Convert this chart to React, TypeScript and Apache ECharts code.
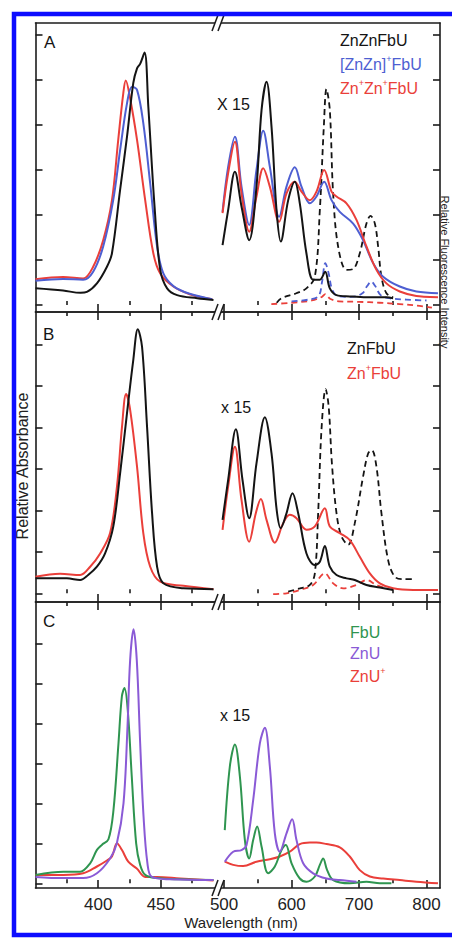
import React, { useEffect, useRef } from 'react';
import * as echarts from 'echarts';

const FONT = '"Liberation Sans", Arial, Helvetica, sans-serif';
const AXIS = '#1c1c1c';
const BLACK = '#141414';
const BLUE = '#4e5fd2';
const RED = '#ea3f3a';
const GREEN = '#2f9550';
const PURPLE = '#8a5ad6';

// tick values
const LEFT_MAJOR = [400, 450];
const LEFT_MINOR = [375, 425, 475];
const RIGHT_MAJOR = [500, 600, 700, 800];
const RIGHT_MINOR = [550, 650, 750];
const Y_TICKS = [0, 1, 2, 3, 4, 5, 6];

// ---------- Panel A (wavelength nm, relative value) ----------
const A_ZnZnFbU_soret = [[350, 0.37], [372, 0.32], [386, 0.27], [391, 0.29], [399, 0.48], [407, 0.85], [411, 1.15], [417.5, 2.56], [423, 3.74], [428, 4.93], [431, 5.26], [433.5, 5.36], [437, 5.61], [440, 4.41], [445, 2.18], [449.5, 0.78], [455, 0.37], [463, 0.22], [479, 0.15], [492, 0.11]];
const A_ZnZnPFbU_soret = [[350, 0.54], [372, 0.58], [388, 0.56], [396, 0.74], [404, 1.3], [412, 2.33], [417.5, 3.44], [423, 4.48], [427, 4.85], [431, 4.78], [436, 4.04], [441.5, 2.7], [447, 1.3], [452, 0.7], [460, 0.42], [473, 0.25], [491, 0.13]];
const A_ZnPZnPFbU_soret = [[350, 0.57], [372, 0.62], [388, 0.59], [396, 0.85], [404, 1.44], [411, 2.33], [416, 3.67], [420, 4.7], [422, 4.99], [425.5, 4.59], [431, 3.67], [437.5, 2.33], [444, 1.15], [449.5, 0.7], [460, 0.41], [473, 0.24], [491, 0.13]];

const A_ZnZnFbU_Q = [[497.7, 1.33], [506, 2.11], [516, 2.96], [525.8, 2.19], [537.2, 1.44], [548, 2.63], [555.5, 4.33], [562.9, 4.96], [570.3, 3.96], [577.7, 2.11], [584, 1.41], [595, 2.33], [604.8, 2.74], [612.2, 2.26], [622, 1.15], [632, 0.56], [641.9, 0.56], [649.8, 0.74], [656.7, 0.37], [666.6, 0.22], [686.3, 0.19], [711, 0.17], [740.6, 0.17], [750.5, 0.15]];
const A_ZnZnPFbU_Q = [[497.7, 2.07], [506, 3.07], [516, 3.74], [525.8, 2.63], [537.2, 1.78], [548, 3.0], [558, 3.87], [567.8, 3.07], [581.6, 1.96], [592.5, 2.63], [604.8, 3.06], [614.7, 2.63], [627.1, 2.26], [636.9, 2.41], [648.3, 2.74], [659.2, 2.33], [671.5, 2.07], [691.3, 1.81], [706, 1.44], [720.9, 0.93], [735.7, 0.63], [760.4, 0.41], [785, 0.3], [817, 0.26]];
const A_ZnPZnPFbU_Q = [[497.7, 2.04], [506, 2.93], [516, 3.63], [525.8, 2.48], [537.2, 1.63], [548, 2.41], [558, 3.04], [567.8, 2.63], [581.6, 1.85], [592.5, 2.48], [604.8, 2.74], [614.7, 2.52], [627.1, 2.33], [636.9, 2.52], [648.3, 3.0], [659.2, 2.52], [666.6, 2.41], [681.4, 2.26], [696.2, 1.89], [711, 1.3], [725.8, 0.78], [740.6, 0.48], [760.4, 0.3], [785, 0.2], [817, 0.17]];

const A_ZnZnFbU_fl = [[578, 0.05], [585, 0.15], [607, 0.26], [622, 0.37], [634.5, 0.63], [641.9, 2.11], [647.8, 3.96], [651.7, 4.8], [656.7, 4.33], [661.6, 2.48], [669, 1.3], [681.4, 0.78], [691.3, 0.8], [701.1, 1.15], [711, 1.81], [717, 1.98], [723.4, 1.81], [728.3, 1.3], [733.2, 0.63], [740.6, 0.26], [750.5, 0.17]];
const A_ZnZnPFbU_fl = [[600, 0.08], [625, 0.12], [640, 0.2], [645, 0.5], [650, 0.93], [655, 0.7], [660, 0.35], [668, 0.2], [690, 0.18], [705, 0.26], [712, 0.42], [718, 0.52], [724, 0.42], [732, 0.22], [745, 0.15], [770, 0.12], [800, 0.1]];
const A_ZnPZnPFbU_fl = [[570, 0.02], [600, 0.05], [630, 0.1], [645, 0.18], [650, 0.24], [657, 0.14], [670, 0.08], [700, 0.07], [730, 0.05], [760, 0.02], [790, -0.02], [808, -0.06]];

// ---------- Panel B ----------
const B_ZnFbU_soret = [[350, 0.36], [375, 0.36], [385.6, 0.32], [392, 0.44], [399, 0.64], [405.5, 0.96], [412, 1.6], [417.5, 2.89], [423, 4.34], [428, 5.62], [431.6, 6.36], [435, 5.94], [439, 4.01], [443, 1.93], [447, 0.64], [452, 0.24], [468, 0.12], [492, 0.1]];
const B_ZnPFbU_soret = [[350, 0.4], [369.6, 0.47], [385.6, 0.44], [393.6, 0.64], [401.6, 0.96], [409.5, 1.45], [415, 2.57], [419, 4.01], [422.3, 4.8], [425.5, 4.42], [431, 3.05], [436, 1.45], [441.5, 0.64], [449.5, 0.28], [468, 0.18], [492, 0.1]];

const B_ZnFbU_Q = [[497.7, 1.77], [506, 2.73], [517.4, 3.95], [527.3, 2.73], [537.2, 1.81], [548, 3.13], [560.4, 4.24], [570.3, 3.37], [578, 2.0], [584, 1.57], [592, 1.9], [601.4, 2.41], [609.8, 1.93], [622.1, 0.96], [634.5, 0.68], [641.9, 0.76], [649.3, 1.14], [656.7, 0.64], [666.6, 0.44], [681.4, 0.36], [693.7, 0.32], [711, 0.2], [730.8, 0.14], [750.5, 0.08]];
const B_ZnPFbU_Q = [[497.7, 1.53], [506, 2.57], [516, 3.53], [525.8, 2.25], [537.2, 1.24], [547, 1.93], [554.5, 2.27], [562.9, 1.77], [575.2, 1.22], [587.6, 1.69], [597.4, 1.89], [607.3, 1.81], [622.1, 1.53], [634.5, 1.61], [649.3, 2.05], [656.7, 1.61], [671.5, 1.45], [686.3, 1.28], [701.1, 0.88], [716, 0.48], [730.8, 0.24], [750.5, 0.12], [780.2, 0.08], [817, 0.08]];

const B_ZnFbU_fl = [[595, 0.04], [612.2, 0.12], [627.1, 0.2], [634.5, 0.48], [639.4, 1.93], [644.3, 3.93], [650.5, 4.92], [655, 4.5], [659.8, 3.13], [666.6, 1.93], [674, 1.37], [683.9, 1.17], [693.7, 1.69], [706, 2.81], [713.5, 3.37], [719, 3.45], [725.8, 3.05], [733.2, 1.93], [743.1, 0.8], [753, 0.4], [765.3, 0.34], [782, 0.34]];
const B_ZnPFbU_fl = [[572.7, -0.02], [592.5, 0.0], [612.2, 0.08], [632, 0.2], [649.3, 0.48], [661.6, 0.24], [676.4, 0.12], [696.2, 0.2], [711, 0.32], [725.8, 0.2], [740.6, 0.12]];

// ---------- Panel C ----------
const C_FbU_soret = [[350, 0.21], [372.3, 0.29], [385.6, 0.29], [393.6, 0.5], [398.9, 0.83], [402.9, 0.96], [408.2, 1.1], [412.2, 1.83], [416.2, 3.5], [418.9, 4.67], [421, 4.88], [423.6, 4.33], [426.8, 2.67], [430.3, 1.0], [433.5, 0.46], [437.5, 0.21], [446.8, 0.13], [465.4, 0.1], [492, 0.08]];
const C_ZnU_soret = [[350, 0.16], [372, 0.13], [388, 0.13], [399, 0.25], [409.5, 0.62], [414.9, 1.0], [420.2, 2.0], [423.4, 3.92], [425.5, 5.58], [428.2, 6.35], [430.8, 5.58], [433.5, 3.5], [436.2, 1.67], [439.3, 0.5], [442.8, 0.16], [457.4, 0.1], [492, 0.08]];
const C_ZnUP_soret = [[350, 0.21], [372, 0.21], [388, 0.25], [399, 0.42], [407, 0.57], [411, 0.67], [415, 1.0], [419, 0.83], [424, 0.54], [430.8, 0.37], [437.5, 0.16], [446.8, 0.16], [465.4, 0.12], [492, 0.07]];

const C_FbU_Q = [[501, 1.33], [508.5, 2.92], [516, 3.47], [523.4, 2.67], [530.8, 1.08], [537.2, 0.62], [543.1, 1.08], [549, 1.42], [555.5, 0.92], [565.3, 0.25], [575.2, 0.42], [585.1, 0.83], [591.5, 0.96], [600, 0.5], [612.2, 0.12], [622.1, 0.04], [634.5, 0.17], [641.9, 0.46], [646.8, 0.62], [652.7, 0.33], [661.6, 0.08], [686.3, 0.0], [711, 0.04], [730.8, 0.0], [748, 0.0]];
const C_ZnU_Q = [[501, 0.54], [513.5, 0.79], [525.8, 0.83], [533.2, 0.95], [543.1, 2.08], [553, 3.5], [560.4, 3.89], [567.8, 2.92], [575.2, 1.25], [582.6, 0.79], [592.5, 1.25], [600.9, 1.6], [607.3, 1.08], [617.2, 0.5], [632, 0.25], [651.8, 0.12], [671.5, 0.08], [696.2, 0.04]];
const C_ZnUP_Q = [[501, 0.54], [513.5, 0.46], [528.3, 0.43], [548, 0.54], [567.8, 0.6], [582.6, 0.67], [597.4, 0.79], [612.2, 0.98], [627.1, 1.02], [636.9, 1.02], [651.8, 0.98], [671.5, 0.9], [686.3, 0.67], [701.1, 0.33], [716, 0.17], [735.7, 0.12], [760.4, 0.08], [785, 0.04], [817, 0.0]];

const PANELS = [
  { top: 23, bottom: 312, ymin: -0.156, ymax: 6.267, topTicks: false, rightTicks: true, labels: false },
  { top: 312, bottom: 602, ymin: -0.21, ymax: 6.778, topTicks: true, rightTicks: true, labels: false },
  { top: 602, bottom: 888, ymin: -0.1175, ymax: 7.0325, topTicks: true, rightTicks: false, labels: true },
];
const SEGS = [
  { left: 35.5, width: 180.5, min: 350, max: 494, major: LEFT_MAJOR, minor: LEFT_MINOR },
  { left: 216, width: 224, min: 488, max: 820, major: RIGHT_MAJOR, minor: RIGHT_MINOR },
];

function buildOption() {
  const grid: any[] = [];
  const xAxis: any[] = [];
  const yAxis: any[] = [];
  const series: any[] = [];
  const lineStyle = { color: AXIS, width: 1.6 };

  PANELS.forEach((p) => {
    SEGS.forEach((s, si) => {
      const gi = grid.length;
      grid.push({ left: s.left, top: p.top, width: s.width, height: p.bottom - p.top, containLabel: false });
      const base = { type: 'value', gridIndex: gi, min: s.min, max: s.max, splitLine: { show: false } };
      xAxis.push({
        ...base, position: 'bottom',
        axisLine: { show: true, onZero: false, lineStyle },
        axisTick: { show: true, inside: true, length: 8, customValues: s.major, lineStyle },
        axisLabel: p.labels
          ? { show: true, customValues: s.major, fontSize: 17, color: '#222', fontFamily: FONT, margin: 8 }
          : { show: false },
      });
      xAxis.push({
        ...base, position: 'bottom',
        axisLine: { show: false },
        axisTick: { show: true, inside: true, length: 4, customValues: s.minor, lineStyle },
        axisLabel: { show: false },
      });
      xAxis.push({
        ...base, position: 'top',
        axisLine: { show: true, onZero: false, lineStyle },
        axisTick: { show: p.topTicks, inside: true, length: 8, customValues: s.major, lineStyle },
        axisLabel: { show: false },
      });
      xAxis.push({
        ...base, position: 'top',
        axisLine: { show: false },
        axisTick: { show: p.topTicks, inside: true, length: 4, customValues: s.minor, lineStyle },
        axisLabel: { show: false },
      });
      yAxis.push({
        type: 'value', gridIndex: gi, min: p.ymin, max: p.ymax,
        position: si === 0 ? 'left' : 'right',
        splitLine: { show: false },
        axisLine: { show: true, onZero: false, lineStyle },
        axisTick: { show: si === 0 || p.rightTicks, inside: true, length: 7, customValues: Y_TICKS, lineStyle },
        axisLabel: { show: false },
      });
    });
  });

  const add = (gi: number, data: number[][], color: string, dashed = false) => {
    series.push({
      type: 'line', xAxisIndex: gi * 4, yAxisIndex: gi, data,
      symbol: 'none', showSymbol: false, smooth: 0.35, silent: true,
      lineStyle: { color, width: dashed ? 1.8 : 2, type: dashed ? [6, 4] : 'solid' },
    });
  };
  // Panel A
  add(0, A_ZnPZnPFbU_soret, RED);
  add(0, A_ZnZnPFbU_soret, BLUE);
  add(0, A_ZnZnFbU_soret, BLACK);
  add(1, A_ZnPZnPFbU_fl, RED, true);
  add(1, A_ZnZnPFbU_fl, BLUE, true);
  add(1, A_ZnZnFbU_fl, BLACK, true);
  add(1, A_ZnZnPFbU_Q, BLUE);
  add(1, A_ZnPZnPFbU_Q, RED);
  add(1, A_ZnZnFbU_Q, BLACK);
  // Panel B
  add(2, B_ZnPFbU_soret, RED);
  add(2, B_ZnFbU_soret, BLACK);
  add(3, B_ZnPFbU_fl, RED, true);
  add(3, B_ZnFbU_fl, BLACK, true);
  add(3, B_ZnPFbU_Q, RED);
  add(3, B_ZnFbU_Q, BLACK);
  // Panel C
  add(4, C_ZnUP_soret, RED);
  add(4, C_FbU_soret, GREEN);
  add(4, C_ZnU_soret, PURPLE);
  add(5, C_ZnUP_Q, RED);
  add(5, C_FbU_Q, GREEN);
  add(5, C_ZnU_Q, PURPLE);

  const txt = (x: number, y: number, text: string, fill: string, fontSize = 16, extra: any = {}) => ({
    type: 'text', x, y, z: 30, silent: true,
    style: { text, fill, fontSize, fontFamily: FONT, verticalAlign: 'middle', align: 'left', ...extra },
  });
  const supText = (x: number, y: number, text: string, fill: string) => ({
    type: 'text', x, y, z: 30, silent: true,
    style: {
      text, fill, fontFamily: FONT, verticalAlign: 'middle', align: 'left',
      rich: {
        a: { fontSize: 16, fill, fontFamily: FONT, lineHeight: 18, verticalAlign: 'bottom' },
        s: { fontSize: 9, fill, fontFamily: FONT, lineHeight: 18, verticalAlign: 'top' },
      },
    },
  });

  const graphic: any[] = [];
  // break marks
  [23, 312, 602, 888].forEach((y) => {
    graphic.push({
      type: 'polygon', z: 25, silent: true,
      shape: { points: [[212, y + 8], [218, y - 8], [224, y - 8], [218, y + 8]] },
      style: { fill: '#ffffff', stroke: null },
    });
    graphic.push({ type: 'line', z: 26, silent: true, shape: { x1: 212, y1: y + 8, x2: 218, y2: y - 8 }, style: { stroke: AXIS, lineWidth: 1.5 } });
    graphic.push({ type: 'line', z: 26, silent: true, shape: { x1: 218, y1: y + 8, x2: 224, y2: y - 8 }, style: { stroke: AXIS, lineWidth: 1.5 } });
  });
  // panel letters & scale labels
  graphic.push(txt(44, 42, 'A', BLACK, 17));
  graphic.push(txt(43, 334, 'B', BLACK, 17));
  graphic.push(txt(43, 621, 'C', BLACK, 17));
  graphic.push(txt(217, 104, 'X 15', BLACK, 16));
  graphic.push(txt(221, 407, 'x 15', BLACK, 16));
  graphic.push(txt(220, 715, 'x 15', BLACK, 16));
  // legends
  graphic.push(txt(340, 40, 'ZnZnFbU', BLACK, 16));
  graphic.push(supText(340, 63, '{a|[ZnZn]}{s|+}{a|FbU}', BLUE));
  graphic.push(supText(340, 87, '{a|Zn}{s|+}{a|Zn}{s|+}{a|FbU}', RED));
  graphic.push(txt(347, 348, 'ZnFbU', BLACK, 16));
  graphic.push(supText(347, 372, '{a|Zn}{s|+}{a|FbU}', RED));
  graphic.push(txt(350, 632, 'FbU', GREEN, 16));
  graphic.push(txt(350, 653, 'ZnU', PURPLE, 16));
  graphic.push(supText(350, 675, '{a|ZnU}{s|+}', RED));
  // axis titles
  graphic.push({
    type: 'text', x: 22, y: 466, rotation: Math.PI / 2, z: 30, silent: true,
    style: { text: 'Relative Absorbance', fill: '#222', fontSize: 16, fontFamily: FONT, align: 'center', verticalAlign: 'middle' },
  });
  graphic.push({
    type: 'text', x: 445, y: 272, rotation: -Math.PI / 2, z: 30, silent: true,
    style: { text: 'Relative Fluorescence Intensity', fill: '#222', fontSize: 11, fontFamily: FONT, align: 'center', verticalAlign: 'middle' },
  });
  graphic.push({
    type: 'text', x: 241, y: 922, z: 30, silent: true,
    style: { text: 'Wavelength (nm)', fill: '#222', fontSize: 15, fontFamily: FONT, align: 'center', verticalAlign: 'middle' },
  });
  // blue frame
  graphic.push({
    type: 'rect', z: 50, silent: true,
    shape: { x: 14, y: 14, width: 460, height: 921 },
    style: { fill: null, stroke: '#0d0dff', lineWidth: 4.5 },
  });

  return {
    animation: false,
    backgroundColor: '#ffffff',
    grid, xAxis, yAxis, series, graphic,
  };
}

export default function App() {
  const ref = useRef<HTMLDivElement>(null);
  useEffect(() => {
    if (!ref.current) return;
    const chart = echarts.init(ref.current, undefined, { renderer: 'svg' });
    chart.setOption(buildOption() as any);
    return () => chart.dispose();
  }, []);
  return (
    <div
      ref={ref}
      style={{ position: 'absolute', left: 0, top: 0, width: 452, height: 940, background: '#fff' }}
    />
  );
}
